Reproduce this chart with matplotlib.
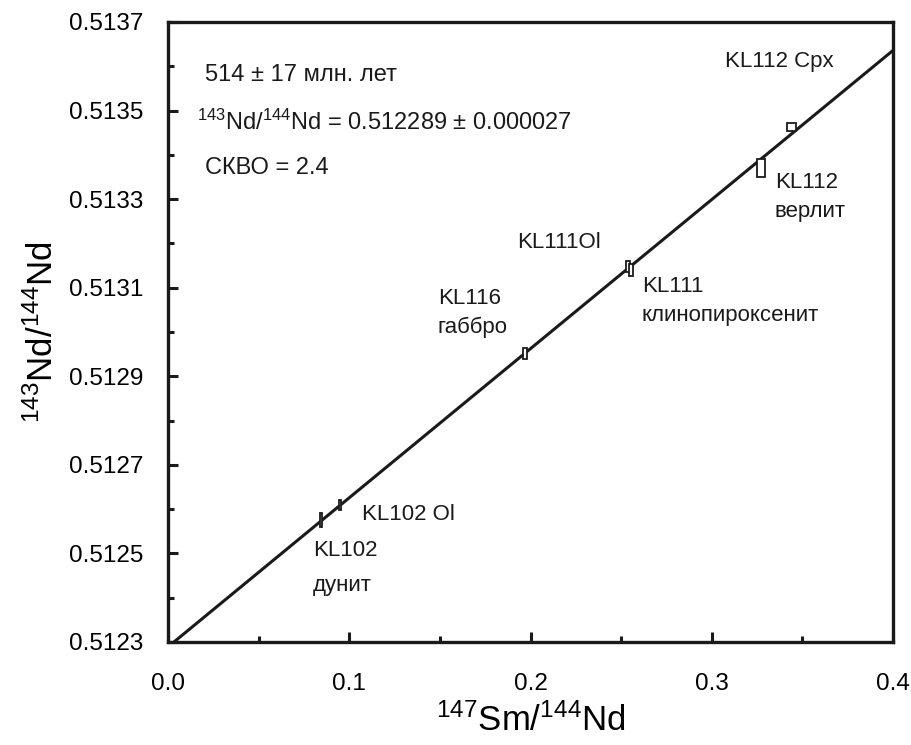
import matplotlib
matplotlib.use("Agg")
import matplotlib.pyplot as plt
from matplotlib.patches import Rectangle
from matplotlib.ticker import FixedLocator, FormatStrFormatter, MultipleLocator
import numpy as np

plt.rcParams['font.family'] = ['Liberation Sans', 'DejaVu Sans']
plt.rcParams['mathtext.fontset'] = 'custom'
plt.rcParams['mathtext.rm'] = 'Liberation Sans'
plt.rcParams['mathtext.it'] = 'Liberation Sans'

# Data: 147Sm/144Nd, 143Nd/144Nd and error-box half widths
samples = ["KL102", "KL102 Ol", "KL116", "KL111Ol", "KL111", "KL112", "KL112 Cpx"]
sm_nd = [0.0844, 0.0949, 0.1970, 0.2538, 0.2556, 0.3272, 0.3440]
nd_nd = [0.512575, 0.512609, 0.512952, 0.513148, 0.513140, 0.513370, 0.513463]
sm_err = [0.0008, 0.0006, 0.0011, 0.0009, 0.0011, 0.0022, 0.0025]
nd_err = [0.000016, 0.000011, 0.000012, 0.000012, 0.000014, 0.000021, 0.000009]

# Isochron
intercept = 0.512289
slope = 0.003367
iso_x = [0.0, 0.4]

y_major = [0.5123, 0.5125, 0.5127, 0.5129, 0.5131, 0.5133, 0.5135, 0.5137]
y_minor = [0.5124, 0.5126, 0.5128, 0.5130, 0.5132, 0.5134, 0.5136]

fig = plt.figure(figsize=(9.12, 7.45), dpi=100)
ax = fig.add_axes([168/912, 1-642/745, (893-168)/912, (642-22)/745])

xs = np.array(iso_x)
ax.plot(xs, intercept + slope*xs, color='#1a1a1a', lw=2.2, zorder=2, solid_capstyle='butt')

for x, y, ex, ey in zip(sm_nd, nd_nd, sm_err, nd_err):
    ax.add_patch(Rectangle((x-ex, y-ey), 2*ex, 2*ey, facecolor='white',
                           edgecolor='#1a1a1a', lw=1.3, zorder=3))

ax.set_xlim(0, 0.4)
ax.set_ylim(0.5123, 0.5137)
ax.xaxis.set_major_locator(MultipleLocator(0.1))
ax.xaxis.set_minor_locator(MultipleLocator(0.05))
ax.yaxis.set_major_locator(FixedLocator(y_major))
ax.yaxis.set_minor_locator(FixedLocator(y_minor))
ax.xaxis.set_major_formatter(FormatStrFormatter('%.1f'))
ax.yaxis.set_major_formatter(FormatStrFormatter('%.4f'))
ax.tick_params(which='both', direction='in', width=2.2, color='#1a1a1a',
               labelsize=17.5)
ax.tick_params(axis='x', which='major', pad=22)
ax.tick_params(axis='y', which='major', pad=18)
ax.tick_params(which='major', length=7)
ax.tick_params(which='minor', length=4)
for s in ax.spines.values():
    s.set_linewidth(2.4)
    s.set_color('#1a1a1a')

ax.set_xlabel(r'$\mathregular{^{147}Sm/^{144}Nd}$', fontsize=25, labelpad=6)
ax.set_ylabel(r'$\mathregular{^{143}Nd/^{144}Nd}$', fontsize=25, labelpad=6)

def T(px, py, s, size=16):
    fig.text(px/912, 1-py/745, s, fontsize=size, va='center', ha='left', color='#1a1a1a')

T(205, 75, '514 ± 17 млн. лет', 17)
T(197, 122, r'$\mathregular{^{143}Nd/^{144}Nd}$ = 0.512289 ± 0.000027', 17)
T(205, 168, 'СКВО = 2.4', 17)

T(725, 62, 'KL112 Cpx')
T(775, 183, 'KL112')
T(775, 212, 'верлит')
T(517, 243, 'KL111Ol')
T(642, 287, 'KL111')
T(642, 316, 'клинопироксенит')
T(438, 298, 'KL116')
T(438, 327, 'габбро')
T(362, 515, 'KL102 Ol')
T(313, 550, 'KL102')
T(313, 585, 'дунит')

fig.savefig('out.png', dpi=100)
